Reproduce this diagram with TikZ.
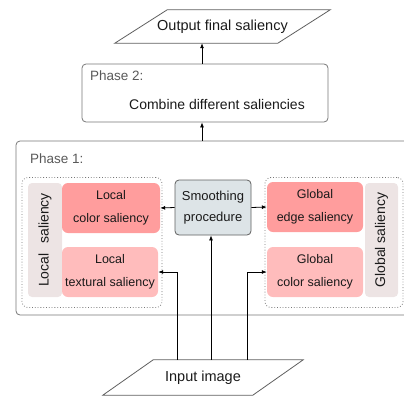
\documentclass[tikz,border=0pt]{standalone}
\usepackage{fontspec}
\setmainfont{Liberation Sans}
\usetikzlibrary{arrows.meta,calc}
\definecolor{strongred}{HTML}{FF9D9D}
\definecolor{lightred}{HTML}{FFBCBC}
\definecolor{barcol}{HTML}{EDE4E4}
\definecolor{smoothcol}{HTML}{DDE4E7}
\definecolor{framecol}{HTML}{777777}
\definecolor{txtcol}{HTML}{1A1A1A}
\tikzset{
  arr/.style={-{Latex[length=5pt,width=4pt]},line width=0.8pt,black},
  salbox/.style={rounded corners=6pt,inner sep=0pt,align=center,font=\fontsize{12.5}{23}\selectfont,text=txtcol},
  barbox/.style={fill=barcol,rounded corners=4pt,inner sep=0pt,font=\fontsize{14}{16}\selectfont,text=txtcol},
  phasebox/.style={draw=framecol,line width=0.8pt,rounded corners=4pt,inner sep=0pt},
  dotbox/.style={draw=framecol,dotted,line width=0.8pt,rounded corners=6pt,inner sep=0pt},
  iobox/.style={inner sep=0pt,font=\fontsize{14.5}{16}\selectfont,text=txtcol},
  label/.style={inner sep=0pt,anchor=west,font=\fontsize{13.5}{16}\selectfont,text=black!65}
}
\begin{document}
\begin{tikzpicture}[x=1pt,y=-1pt]
\useasboundingbox (0,0) rectangle (404,399);
\clip (0,0) rectangle (404,399);
% output
\node[iobox,minimum width=215,minimum height=33] (out) at (222.5,26.5) {Output final saliency};
\draw[framecol!80!black,line width=0.8pt] (out.south west) -- ($(out.south west)+(163,0)$) -- (out.north east) -- ($(out.north east)+(-163,0)$) -- cycle;
% phase 2
\node[phasebox,minimum width=246,minimum height=58] (p2) at (205,93) {};
\node[label] (p2l) at (90,76) {Phase 2:};
\node[iobox,font=\fontsize{14}{16}\selectfont] (p2t) at (217,104) {Combine different saliencies};
% phase 1
\node[phasebox,minimum width=400,minimum height=174] (p1) at (216,228) {};
\node[label] (p1l) at (30,159) {Phase 1:};
% dotted groups
\node[dotbox,minimum width=140,minimum height=130] (ldot) at (92,242.5) {};
\node[dotbox,minimum width=138,minimum height=130] (rdot) at (334,242.5) {};
% local
\node[barbox,minimum width=114,minimum height=34,rotate=90] (lbar) at (45,240) {Local\hspace{0.7em}saliency};
\node[salbox,fill=strongred,minimum width=98,minimum height=50] (lcol) at (111,208) {Local\\color saliency};
\node[salbox,fill=lightred,minimum width=96,minimum height=50] (ltex) at (110,272) {Local\\textural saliency};
% global
\node[salbox,fill=strongred,minimum width=96,minimum height=50] (gedge) at (315,207) {Global\\edge saliency};
\node[salbox,fill=lightred,minimum width=96,minimum height=50] (gcol) at (315,272) {Global\\color saliency};
\node[barbox,minimum width=114,minimum height=33,rotate=90] (gbar) at (381.5,240) {Global saliency};
% smoothing
\node[salbox,draw=framecol!80!black,line width=0.8pt,fill=smoothcol,rounded corners=4pt,minimum width=76,minimum height=55,font=\fontsize{13}{21}\selectfont] (sm) at (213,207.5) {Smoothing\\procedure};
% input
\node[iobox,minimum width=200,minimum height=35] (in) at (203,377.5) {Input image};
\draw[framecol!80!black,line width=0.8pt] (in.south west) -- ($(in.south west)+(150,0)$) -- (in.north east) -- ($(in.north east)+(-150,0)$) -- cycle;
% connectors
\coordinate (ax) at (202,0);
\draw[arr] (ax |- p2.north) -- (ax |- out.south);
\draw[arr] (ax |- p1.north) -- (ax |- p2.south);
\draw[arr] (sm.west) -- (lcol.east);
\draw[arr] (sm.east) -- (gedge.west);
\coordinate (i1) at (177,0);
\coordinate (i2) at (211,0);
\coordinate (i3) at (247,0);
\draw[arr] (i1 |- in.north) -- (i1 |- ltex.east) -- (ltex.east);
\draw[arr] (i2 |- in.north) -- (i2 |- sm.south);
\draw[arr] (i3 |- in.north) -- (i3 |- gcol.west) -- (gcol.west);
\end{tikzpicture}
\end{document}
